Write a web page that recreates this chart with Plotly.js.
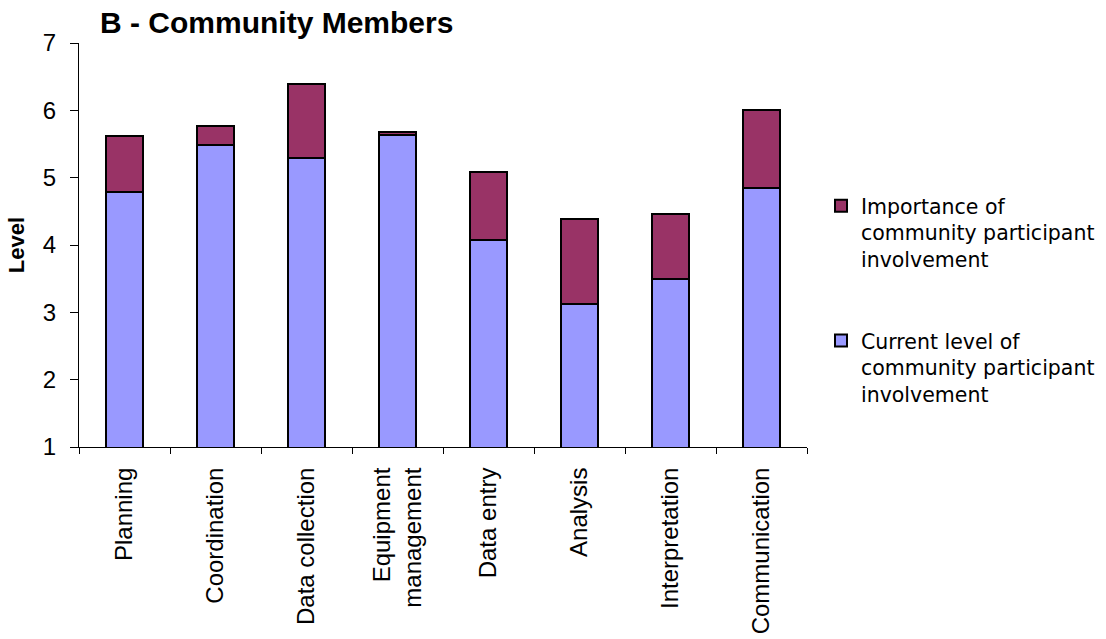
<!DOCTYPE html>
<html>
<head>
<meta charset="utf-8">
<script src="https://cdn.plot.ly/plotly-3.0.1.min.js"></script>
<style>html,body{margin:0;padding:0;background:#fff;}#chart{width:1106px;height:639px;}</style>
</head>
<body>
<div id="chart"></div>
<script>
const categories = ["Planning", "Coordination", "Data collection", "Equipment<br>management", "Data entry", "Analysis", "Interpretation", "Communication"];
const currentLevel = [4.79, 5.49, 5.29, 5.64, 4.07, 3.13, 3.50, 4.85];
const importanceGap = [0.83, 0.28, 1.10, 0.04, 1.01, 1.26, 0.96, 1.15];
const yTicks = [1, 2, 3, 4, 5, 6, 7];

const font = "Liberation Sans, Arial, sans-serif";
const legendFont = "DejaVu Sans, Liberation Sans, Arial, sans-serif";

const traces = [
  {
    type: "bar", x: categories, y: currentLevel,
    name: "Current level of<br>community participant<br>involvement",
    legendgroup: "cur", legendrank: 2,
    marker: {color: "#9999FF", line: {color: "#000", width: 2}},
    hoverinfo: "y"
  },
  {
    type: "bar", x: categories, y: importanceGap,
    name: "Importance of<br>community participant<br>involvement",
    legendgroup: "imp", legendrank: 1,
    marker: {color: "#993366", line: {color: "#000", width: 2}},
    hoverinfo: "y"
  }
];

const layout = {
  width: 1106, height: 639,
  paper_bgcolor: "#fff", plot_bgcolor: "#fff",
  margin: {l: 79, r: 299, t: 43, b: 191.5, autoexpand: false},
  barmode: "stack",
  bargap: 0.59,
  font: {family: font, color: "#000", size: 24},
  title: {text: "<b>B - Community Members</b>", font: {family: font, size: 30, color: "#000"},
          x: 100/1106, xanchor: "left", xref: "container", y: 1 - 22/639, yanchor: "middle", yref: "container"},
  xaxis: {
    showline: true, linecolor: "#000", linewidth: 1,
    ticks: "outside", ticklen: 6, tickcolor: "#000",
    tickson: "boundaries",
    tickangle: -90, tickfont: {size: 24, family: font},
    ticklabelstandoff: 10,
    showgrid: false, zeroline: false, fixedrange: true, automargin: false
  },
  yaxis: {
    range: [1, 7], tickvals: yTicks, ticktext: yTicks.map(String),
    showline: true, linecolor: "#000", linewidth: 1,
    ticks: "outside", ticklen: 8, tickcolor: "#000",
    tickfont: {size: 24, family: font},
    ticklabelstandoff: 9,
    showgrid: false, zeroline: false, automargin: false,
    title: {text: "<b>Level</b>", font: {size: 22, family: font}, standoff: 12}
  },
  showlegend: true,
  legend: {
    x: (821 - 79) / 728, xanchor: "left", y: (447.5 - 186) / 404.5, yanchor: "top",
    traceorder: "grouped", tracegroupgap: 52,
    valign: "top",
    font: {size: 20.5, family: legendFont, color: "#000"},
    itemwidth: 30
  }
};

Plotly.newPlot("chart", traces, layout, {displayModeBar: false, staticPlot: true});
</script>
</body>
</html>
